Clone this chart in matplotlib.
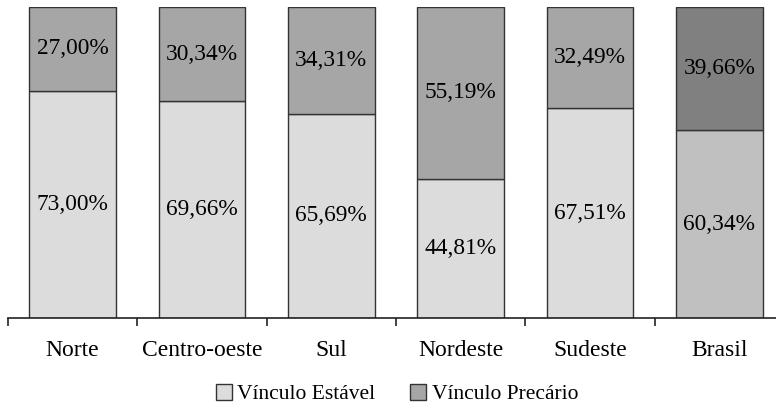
import numpy as np
import matplotlib.pyplot as plt
from matplotlib.patches import Patch

regioes = ["Norte", "Centro-oeste", "Sul", "Nordeste", "Sudeste", "Brasil"]
estavel = [73.00, 69.66, 65.69, 44.81, 67.51, 60.34]
precario = [27.00, 30.34, 34.31, 55.19, 32.49, 39.66]

cor_est = ["#dcdcdc"] * 5 + ["#c0c0c0"]
cor_prec = ["#a6a6a6"] * 5 + ["#808080"]

plt.rcParams['font.family'] = ['Liberation Serif', 'DejaVu Serif']

fig = plt.figure(figsize=(7.76, 4.05), dpi=100)
ax = fig.add_axes([8 / 776, 87 / 405, 1.0, 311 / 405])

x = np.arange(len(regioes))
ax.bar(x, estavel, width=0.67, color=cor_est, edgecolor="#333333", linewidth=1)
ax.bar(x, precario, width=0.67, bottom=estavel, color=cor_prec, edgecolor="#333333", linewidth=1)

for i in range(len(regioes)):
    ax.text(x[i], estavel[i] / 2, ("%.2f%%" % estavel[i]).replace(".", ","),
            ha="center", va="center", fontsize=16.8)
    ax.text(x[i], estavel[i] + precario[i] / 2, ("%.2f%%" % precario[i]).replace(".", ","),
            ha="center", va="center", fontsize=16.8)

ax.set_xlim(-0.5, len(regioes) - 0.5)
ax.set_ylim(0, 100)
for s in ["top", "right", "left"]:
    ax.spines[s].set_visible(False)
ax.spines["bottom"].set_color("#222222")
ax.spines["bottom"].set_linewidth(1.2)
ax.set_yticks([])
ax.set_xticks(np.arange(len(regioes) + 1) - 0.5)
ax.set_xticklabels([])
ax.set_xticks(x, minor=True)
ax.set_xticklabels(regioes, minor=True, fontsize=17)
ax.tick_params(axis="x", which="major", length=6, width=1.2, color="#222222")
ax.tick_params(axis="x", which="minor", length=0, pad=16)

handles = [Patch(facecolor="#dcdcdc", edgecolor="#333333", label="Vínculo Estável"),
           Patch(facecolor="#a6a6a6", edgecolor="#333333", label="Vínculo Precário")]
fig.legend(handles=handles, loc="center", bbox_to_anchor=(397 / 776, 11 / 405), ncol=2,
           frameon=False, fontsize=15.5, handlelength=0.75, handleheight=0.75,
           handletextpad=0.25, columnspacing=1.6)

plt.savefig("out.png", dpi=100)
plt.close()
